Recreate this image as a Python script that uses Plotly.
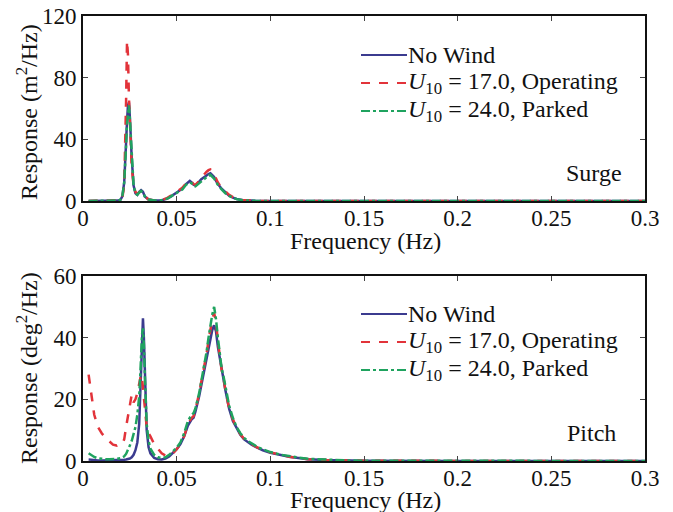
import plotly.graph_objects as go

# ---- Surge response spectra (m^2/Hz) ----
freq_surge = [0.003, 0.010, 0.015, 0.018, 0.019, 0.020, 0.021, 0.022, 0.0225, 0.023,
              0.0235, 0.024, 0.0245, 0.025, 0.026, 0.027, 0.028, 0.029, 0.030, 0.031,
              0.032, 0.033, 0.035, 0.038, 0.042, 0.045, 0.047, 0.049, 0.051, 0.053,
              0.055, 0.057, 0.058, 0.059, 0.060, 0.061, 0.062, 0.063, 0.064, 0.065,
              0.066, 0.067, 0.068, 0.069, 0.070, 0.071, 0.072, 0.074, 0.076, 0.078,
              0.080, 0.082, 0.085, 0.088, 0.092, 0.100, 0.120, 0.150, 0.200, 0.250, 0.300]

surge_nowind = [0, 0, 0, 0.1, 0.3, 0.8, 3, 12, 22, 38,
                52, 62, 64, 55, 28, 10, 5, 4, 6, 7,
                6, 3, 1, 0.3, 0.5, 1.5, 3, 4.5, 6, 8,
                11, 13, 12, 10.5, 10, 11, 12.5, 14, 15, 16,
                17, 17.5, 18, 17, 15.5, 13, 11, 8, 5.5, 3.5,
                2.2, 1.3, 0.6, 0.3, 0.1, 0, 0, 0, 0, 0, 0]

surge_op17 = [0, 0, 0, 0.1, 0.3, 0.8, 2, 10, 30, 65,
              104, 95, 68, 48, 22, 10, 6, 4.5, 5.5, 6.5,
              5.5, 3, 1, 0.4, 0.7, 2, 3.5, 5, 6.5, 8.5,
              11.5, 13.5, 12.5, 11, 10.5, 11.5, 13, 15, 16.5, 17.5,
              19, 20, 20.5, 19.5, 17.5, 14.5, 12, 8.5, 6, 4,
              2.5, 1.5, 0.7, 0.3, 0.1, 0, 0, 0, 0, 0, 0]

surge_park24 = [0, 0, 0, 0.1, 0.3, 0.8, 3, 12, 21, 36,
                50, 59, 62, 54, 27, 10, 5, 4, 5.5, 6.5,
                5.5, 3, 1, 0.3, 0.5, 1.5, 3, 4.5, 5.5, 7.5,
                10.5, 12, 11.5, 10, 9.5, 10.5, 12, 13, 14, 15,
                16, 16.5, 17, 16, 14.5, 12.5, 10.5, 7.5, 5, 3.3,
                2, 1.2, 0.5, 0.2, 0.1, 0, 0, 0, 0, 0, 0]

# ---- Pitch response spectra (deg^2/Hz) ----
freq_pitch = [0.003, 0.004, 0.005, 0.006, 0.008, 0.010, 0.012, 0.014, 0.016, 0.018,
              0.020, 0.021, 0.022, 0.023, 0.024, 0.025, 0.026, 0.027, 0.028, 0.029,
              0.030, 0.0305, 0.031, 0.0315, 0.032, 0.0325, 0.033, 0.0335, 0.034, 0.035,
              0.036, 0.038, 0.040, 0.042, 0.044, 0.046, 0.048, 0.050, 0.052, 0.054,
              0.056, 0.058, 0.059, 0.060, 0.062, 0.064, 0.066, 0.067, 0.068, 0.069,
              0.070, 0.071, 0.072, 0.073, 0.074, 0.075, 0.076, 0.078, 0.080, 0.082,
              0.084, 0.086, 0.088, 0.090, 0.093, 0.096, 0.100, 0.105, 0.110, 0.115,
              0.120, 0.130, 0.140, 0.150, 0.200, 0.250, 0.300]

pitch_nowind = [0.5, 0.4, 0.3, 0.3, 0.2, 0.2, 0.2, 0.2, 0.2, 0.2,
                0.3, 0.3, 0.4, 0.5, 0.6, 0.8, 1.2, 2, 3.5, 6,
                12, 20, 32, 42, 46.3, 40, 28, 17, 10, 4.5,
                2.5, 1, 0.6, 0.5, 0.8, 1.5, 2.5, 3.8, 5.5, 8,
                11.5, 13.5, 14, 16, 21, 27, 34, 37, 40, 42.5,
                44, 42, 37, 33, 29, 26.5, 23, 17, 13, 10.5,
                8.5, 7, 6, 5.3, 4.3, 3.5, 2.7, 2, 1.4, 1,
                0.6, 0.3, 0.15, 0.1, 0.03, 0.01, 0]

pitch_op17 = [28, 24, 19, 15, 11, 9, 7.5, 6.5, 5.3, 5,
              6, 5.8, 7, 11, 15, 18, 21.5, 19, 20, 22,
              25, 27, 28, 27, 24, 20, 16, 13, 11, 9,
              8, 5.5, 3.8, 2.5, 1.8, 1.8, 2.5, 3.8, 5.5, 8,
              12, 14, 14.5, 16.5, 22, 28, 35, 39, 43, 46,
              48, 45, 39, 34, 29.5, 27, 23, 17, 13.5, 10.8,
              8.7, 7.2, 6.2, 5.5, 4.4, 3.6, 2.8, 2, 1.4, 1,
              0.6, 0.3, 0.15, 0.1, 0.03, 0.01, 0]

pitch_park24 = [2.5, 2, 1.6, 1.3, 0.9, 0.7, 0.6, 0.6, 0.6, 0.7,
                0.9, 1.1, 1.5, 2.3, 3.5, 5, 6.5, 8.5, 11, 15,
                21, 27, 35, 41, 43, 38, 28, 19, 12, 6.5,
                4, 2, 1.2, 1, 1.2, 2, 3, 4.3, 6, 9,
                13, 15, 15.5, 17, 22, 28.5, 35.5, 40, 44, 47.5,
                50, 46, 40, 35, 30, 27.5, 24, 18, 14, 11,
                9, 7.5, 6.5, 5.7, 4.6, 3.8, 2.9, 2.1, 1.5, 1.1,
                0.7, 0.35, 0.2, 0.1, 0.03, 0.01, 0]

series_names = ["No Wind",
                "<i>U</i><sub>10</sub> = 17.0, Operating",
                "<i>U</i><sub>10</sub> = 24.0, Parked"]
series_colors = ["#3b3b8f", "#e2333a", "#1fa35f"]
series_dash = ["solid", "dash", "dashdot"]

x_ticks = [0, 0.05, 0.1, 0.15, 0.2, 0.25, 0.3]
x_ticktext = ["0", "0.05", "0.1", "0.15", "0.2", "0.25", "0.3"]

FONT = "Times New Roman, Tinos, Liberation Serif, DejaVu Serif, serif"
FS = 24
FS_TICK = 23
W, H = 673, 512

fig = go.Figure()

panels = [
    (freq_surge, [surge_nowind, surge_op17, surge_park24], "x", "y"),
    (freq_pitch, [pitch_nowind, pitch_op17, pitch_park24], "x2", "y2"),
]
for freq, curves, xa, ya in panels:
    for vals, name, col, dash in zip(curves, series_names, series_colors, series_dash):
        fig.add_trace(go.Scatter(
            x=freq, y=vals, mode="lines", name=name, showlegend=False,
            line=dict(color=col, width=2.5, dash=dash),
            xaxis=xa, yaxis=ya,
        ))


def txt(text, x, y, xanchor="center", angle=0):
    """Text placed in paper space from pixel coordinates (top-left origin)."""
    return dict(text=text, xref="paper", yref="paper", x=x / W, y=1 - y / H,
                xanchor=xanchor, yanchor="middle", showarrow=False,
                textangle=angle, font=dict(family=FONT, size=FS, color="#111"))


# In-panel legends: short line samples with labels, one block per panel
shapes = []
annotations = []
legend_tops = [55, 314]
row_gap = 28
for top in legend_tops:
    for i, (name, col, dash) in enumerate(zip(series_names, series_colors, series_dash)):
        yp = top + i * row_gap
        shapes.append(dict(type="line", xref="paper", yref="paper",
                           x0=361 / W, x1=407 / W, y0=1 - yp / H, y1=1 - yp / H,
                           line=dict(color=col, width=2, dash=dash)))
        annotations.append(txt(name, 406, yp, xanchor="left"))

# Panel labels and axis titles
annotations += [
    txt("Surge", 624, 173, xanchor="right"),
    txt("Pitch", 618, 433, xanchor="right"),
    txt("Frequency (Hz)", 366, 241),
    txt("Frequency (Hz)", 366, 500),
    txt("Response (m<sup>2</sup>/Hz)", 27, 112, angle=-90),
    txt("Response (deg<sup>2</sup>/Hz)", 27, 368, angle=-90),
]

axis_common = dict(
    showline=True, linecolor="#111", linewidth=2, mirror="ticks",
    ticks="inside", ticklen=5, tickwidth=1, tickcolor="#444",
    showgrid=False, zeroline=False, automargin=False,
    tickfont=dict(family=FONT, size=FS_TICK, color="#111"),
)

x_dom = [83 / W, 645 / W]
fig.update_layout(
    width=W, height=H,
    margin=dict(l=0, r=0, t=0, b=0, autoexpand=False),
    paper_bgcolor="white", plot_bgcolor="white",
    font=dict(family=FONT, size=FS, color="#111"),
    showlegend=False,
    xaxis=dict(domain=x_dom, anchor="y", range=[0, 0.3], tickvals=x_ticks,
               ticktext=x_ticktext, ticklabelstandoff=-5, **axis_common),
    yaxis=dict(domain=[1 - 201 / H, 1 - 16 / H], anchor="x", range=[0, 120],
               tickvals=[0, 40, 80, 120], **axis_common),
    xaxis2=dict(domain=x_dom, anchor="y2", range=[0, 0.3], tickvals=x_ticks,
                ticktext=x_ticktext, ticklabelstandoff=-5, **axis_common),
    yaxis2=dict(domain=[1 - 461 / H, 1 - 276 / H], anchor="x2", range=[0, 60],
                tickvals=[0, 20, 40, 60], **axis_common),
    shapes=shapes,
    annotations=annotations,
)

fig.write_html("out.html")
